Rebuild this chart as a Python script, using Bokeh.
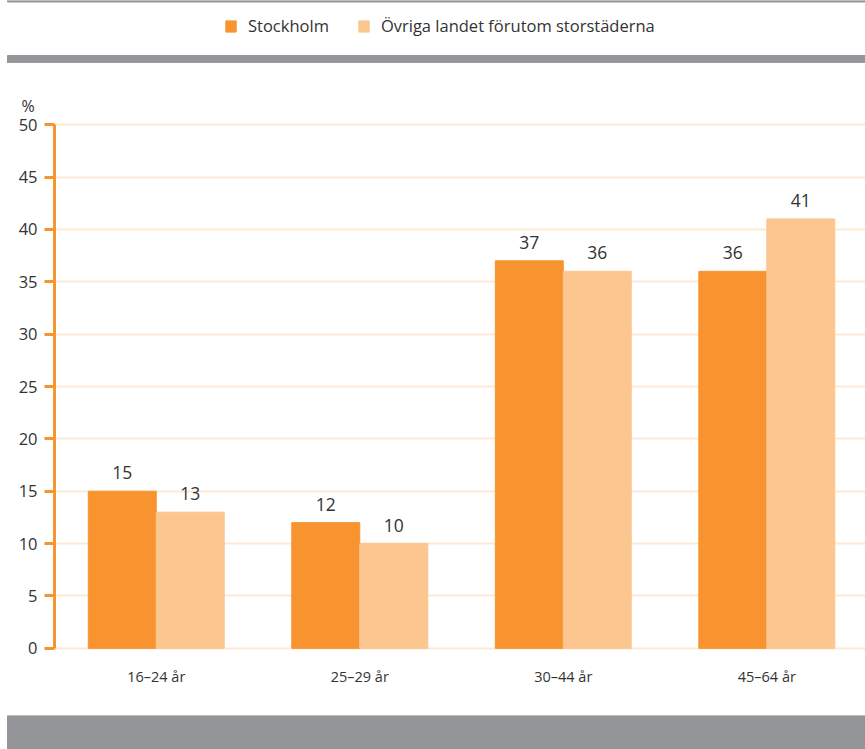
from bokeh.plotting import figure
from bokeh.layouts import column
from bokeh.models import (Range1d, FixedTicker, ColumnDataSource, LabelSet, Title,
                          Legend, LegendItem)
from bokeh.core.properties import value
from bokeh.embed import file_html
from bokeh.resources import INLINE

categories = ["16\u201324 \u00e5r", "25\u201329 \u00e5r", "30\u201344 \u00e5r", "45\u201364 \u00e5r"]
series_names = ["Stockholm", "\u00d6vriga landet f\u00f6rutom storst\u00e4derna"]
stockholm = [15, 12, 37, 36]
ovriga = [13, 10, 36, 41]
y_ticks = [0, 5, 10, 15, 20, 25, 30, 35, 40, 45, 50]

C1 = "#f7942f"
C2 = "#fbc690"
GRAY = "#939598"
TXT = "#333333"
FONT = "Open Sans"
W = 865
TOP_H, MAIN_H, BOT_H = 63, 652, 34


def band_fig(h):
    f = figure(width=W, height=h, output_backend="svg", toolbar_location=None,
               x_range=Range1d(0, W), y_range=Range1d(0, h),
               x_axis_location=None, y_axis_location=None,
               min_border=0, min_border_left=0, min_border_right=0,
               min_border_top=0, min_border_bottom=0, frame_align=False)
    f.grid.visible = False
    f.outline_line_color = None
    return f


# ---------- top: legend + gray bands ----------
top = band_fig(TOP_H)
top.quad(left=[7], right=[W], bottom=[TOP_H - 1.5], top=[TOP_H], color=GRAY)
top.quad(left=[7], right=[W], bottom=[TOP_H - 62.3], top=[TOP_H - 55], color=GRAY)
dummy = ColumnDataSource(dict(x=[-100], top=[0]))
r1 = top.vbar(x="x", top="top", width=1, source=dummy, color=C1)
r2 = top.vbar(x="x", top="top", width=1, source=dummy, color=C2)
legend = Legend(items=[LegendItem(label=series_names[0], renderers=[r1]),
                       LegendItem(label=series_names[1], renderers=[r2])],
                orientation="horizontal", location=(224, 26),
                glyph_width=13, glyph_height=14, label_height=14,
                label_standoff=11, spacing=28, padding=0, margin=0,
                label_text_font=FONT, label_text_font_size="16.5px",
                label_text_color=TXT, background_fill_alpha=0,
                border_line_color=None)
top.add_layout(legend, "center")

# ---------- main chart ----------
n = len(categories)
src = ColumnDataSource(dict(
    s=stockholm, o=ovriga,
    x1=[i + 0.5 - 0.167 for i in range(n)],
    x2=[i + 0.5 + 0.167 for i in range(n)],
    ls=[str(v) for v in stockholm], lo=[str(v) for v in ovriga],
))

p = figure(width=W, height=MAIN_H, output_backend="svg", toolbar_location=None,
           x_range=Range1d(0, 3.985), y_range=Range1d(-0.3, 50.3),
           min_border_left=54, min_border_right=0, min_border_top=58,
           min_border_bottom=MAIN_H - 58 - 530, frame_align=False)
p.outline_line_color = None
p.vbar(x="x1", top="s", width=0.334, source=src, color=C1)
p.vbar(x="x2", top="o", width=0.334, source=src, color=C2)

for xf, yf, tf in (("x1", "s", "ls"), ("x2", "o", "lo")):
    p.add_layout(LabelSet(x=xf, y=yf, text=tf, source=src, text_align="center",
                          text_baseline="alphabetic", y_offset=12,
                          text_font=value(FONT), text_font_size="17.5px",
                          text_color=TXT))

p.xgrid.visible = False
p.ygrid.ticker = FixedTicker(ticks=y_ticks)
p.ygrid.grid_line_color = "#fde9d5"
p.ygrid.grid_line_width = 2

ya = p.yaxis[0]
ya.ticker = FixedTicker(ticks=y_ticks)
ya.bounds = (0, 50)
ya.axis_line_color = C1
ya.axis_line_width = 3
ya.major_tick_line_color = C1
ya.major_tick_line_width = 3
ya.major_tick_out = 10
ya.major_tick_in = 0
ya.minor_tick_line_color = None
ya.major_label_standoff = 7
ya.major_label_text_font = FONT
ya.major_label_text_font_size = "16.5px"
ya.major_label_text_color = TXT

xa = p.xaxis[0]
xa.ticker = FixedTicker(ticks=[i + 0.5 for i in range(n)])
xa.major_label_overrides = {i + 0.5: c for i, c in enumerate(categories)}
xa.axis_line_color = None
xa.major_tick_line_color = None
xa.minor_tick_line_color = None
xa.major_label_standoff = 9
xa.major_label_text_font = FONT
xa.major_label_text_font_size = "14.5px"
xa.major_label_text_color = TXT

p.add_layout(Title(text="%", align="left", offset=-33, standoff=9,
                   text_font=FONT, text_font_size="16px",
                   text_font_style="normal", text_color=TXT), "above")

# ---------- bottom gray band ----------
bot = band_fig(BOT_H)
bot.quad(left=[7], right=[W], bottom=[0], top=[BOT_H], color=GRAY)

layout = column(top, p, bot, spacing=0)
open("out.html", "w").write(file_html(layout, INLINE))
